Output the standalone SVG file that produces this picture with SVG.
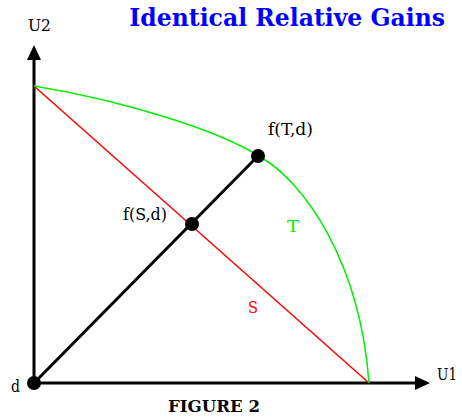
<svg xmlns="http://www.w3.org/2000/svg" width="462" height="420" viewBox="0 0 462 420">
<style>
text{font-family:"DejaVu Serif","Liberation Serif",serif}
.lbl{font-size:17px;fill:#000}
.axis{stroke:#000;stroke-width:3;fill:none}
.dot{fill:#000}
</style>
<rect width="462" height="420" fill="#fff"/>
<text x="445" y="26" font-size="23.5" font-weight="bold" fill="#0000ff" text-anchor="end">Identical Relative Gains</text>
<g id="connectors">
<line class="axis" x1="34" y1="383" x2="34" y2="58"/>
<polygon points="34,45 27,60 41,60" fill="#000"/>
<line class="axis" x1="34" y1="383" x2="417" y2="383"/>
<polygon points="430,383 415,376 415,390" fill="#000"/>
<line x1="34" y1="86" x2="369" y2="383" stroke="#ff0000" stroke-width="1.5"/>
<path d="M34,86 C120,100 220,130 262,158 C303,182 360,260 369,383" fill="none" stroke="#00ee00" stroke-width="1.5"/>
<line class="axis" x1="34" y1="383" x2="258" y2="156"/>
</g>
<g id="d"><circle class="dot" cx="34" cy="383" r="7"/><text class="lbl" x="11" y="392" textLength="9" lengthAdjust="spacingAndGlyphs">d</text></g>
<g id="fT"><circle class="dot" cx="258" cy="156" r="7"/><text class="lbl" x="268" y="135" textLength="45" lengthAdjust="spacingAndGlyphs">f(T,d)</text></g>
<g id="fS"><circle class="dot" cx="192" cy="224" r="7"/><text class="lbl" x="123" y="220" textLength="44" lengthAdjust="spacingAndGlyphs">f(S,d)</text></g>
<g id="labels">
<text class="lbl" x="437" y="380" font-size="16" textLength="20" lengthAdjust="spacingAndGlyphs">U1</text>
<text class="lbl" x="28" y="31" textLength="23" lengthAdjust="spacingAndGlyphs">U2</text>
<text x="287" y="232" font-size="17" fill="#00ee00" textLength="12" lengthAdjust="spacingAndGlyphs">T</text>
<text x="248" y="313" font-size="17" fill="#ff0000" textLength="10" lengthAdjust="spacingAndGlyphs">S</text>
<text x="168" y="412" font-size="17" font-weight="bold" fill="#000" textLength="92" lengthAdjust="spacingAndGlyphs">FIGURE 2</text>
</g>
</svg>
